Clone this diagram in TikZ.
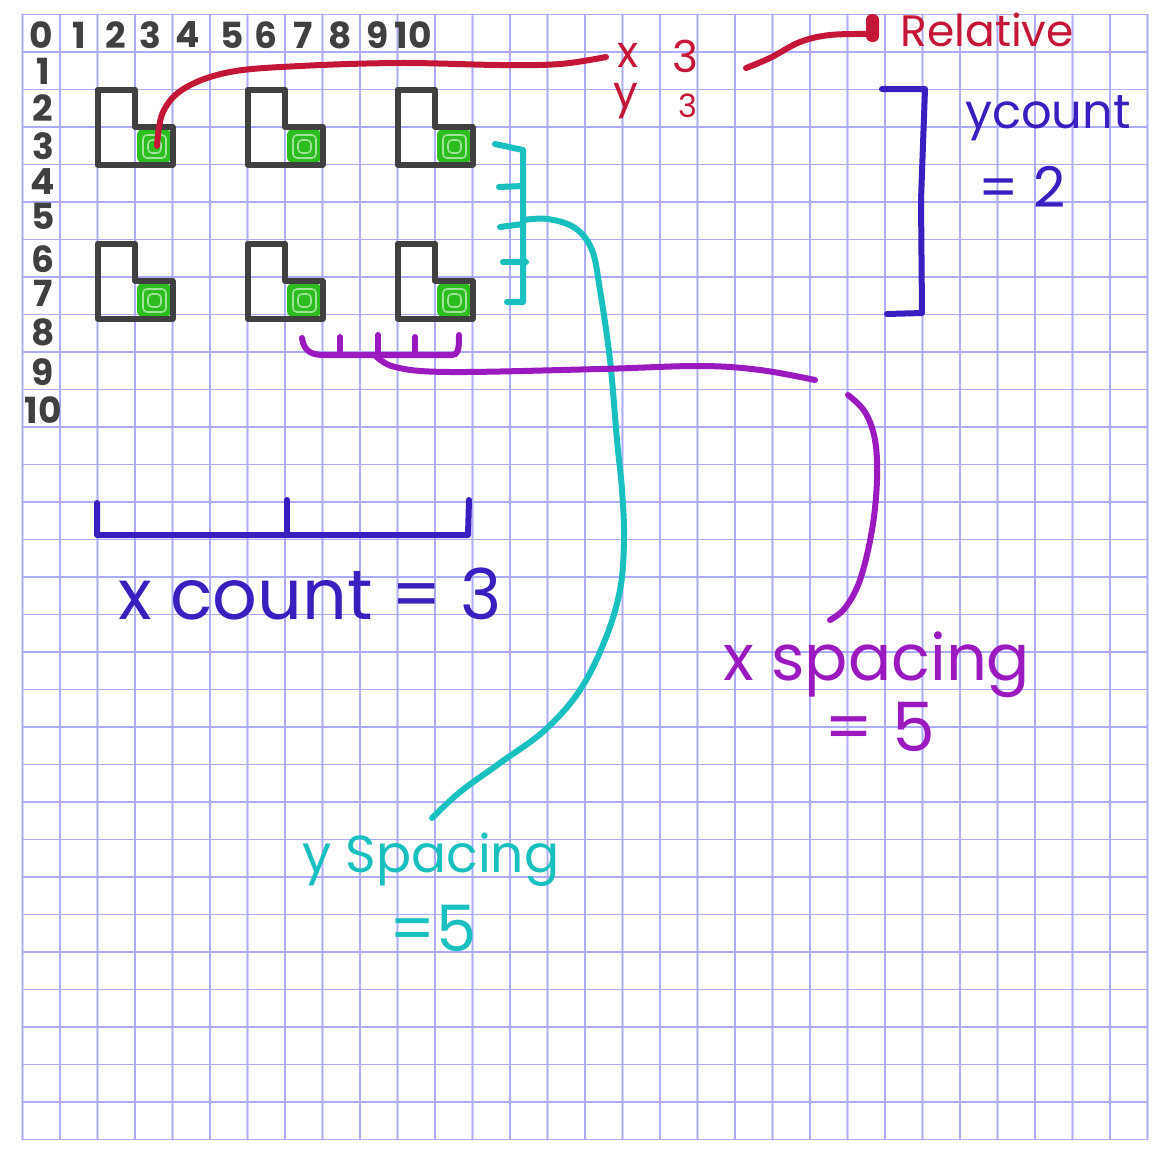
\documentclass[tikz,border=0pt]{standalone}
\usepackage{fontspec}
\setmainfont{Poppins}
\definecolor{gridA}{RGB}{172,172,250}
\definecolor{gridB}{RGB}{214,214,250}
\definecolor{ink}{RGB}{64,64,64}
\definecolor{lgreen}{RGB}{44,190,31}
\definecolor{rred}{RGB}{196,23,55}
\definecolor{dblue}{RGB}{58,30,192}
\definecolor{pur}{RGB}{155,26,191}
\definecolor{cyn}{RGB}{26,191,191}
\begin{document}
\begin{tikzpicture}[x=0.5pt,y=-0.5pt,line cap=round,line join=round,
  pen/.style={line width=3pt},
  num/.style={inner sep=0pt,text=ink,font=\fontsize{18}{18}\selectfont\bfseries},
  lbl/.style={inner sep=0pt,font=\fontsize{#1}{#1}\selectfont}]
\useasboundingbox (0,0) rectangle (1172,1163);
\fill[white] (0,0) rectangle (1172,1163);
% grid
\foreach \i in {0,2,...,30}{\draw[gridB,line width=1.3pt] (22.5+37.5*\i,14.5) -- (22.5+37.5*\i,1139.5);}
\foreach \i in {1,3,...,29}{\draw[gridB,line width=1.3pt] (22.5,14.5+37.5*\i) -- (1147.5,14.5+37.5*\i);}
\foreach \i in {0,...,30}{
  \draw[gridA,line width=0.6pt] (22.5+37.5*\i,14.5) -- (22.5+37.5*\i,1139.5);
  \draw[gridA,line width=0.6pt] (22.5,14.5+37.5*\i) -- (1147.5,14.5+37.5*\i);}
% numbers
\foreach \n/\x in {0/41,1/79,2/116,3/150,4/188,5/232,6/266,7/303,8/340,9/378,10/413}
  {\node[num] (c\n) at (\x,35) {\n};}
\foreach \n/\y in {1/71,2/108,3/146,4/182,5/216,6/259,7/293,8/332,9/372,10/410}
  {\node[num] (r\n) at (43,\y) {\n};}
% L shapes
\foreach \dx in {0,150,300}{\foreach \dy in {0,154}{
  \begin{scope}[shift={(\dx,\dy)}]
  \fill[lgreen,rounded corners=3pt] (137,129) rectangle (171,163);
  \draw[white!55!lgreen,line width=0.8pt,rounded corners=2pt] (143,135) rectangle (166,158) (148,140) rectangle (161,153);
  \draw[pen,ink] (97.5,89.5) -- (135,89.5) -- (135,127) -- (172.5,127) -- (172.5,164.5) -- (97.5,164.5) -- cycle;
  \end{scope}}}
% red
\coordinate (rs) at (157,146);
\coordinate (re) at (606,57);
\draw[pen,rred] plot[smooth,tension=0.6] coordinates {(rs) (163,112) (185,88) (230,72) (300,66) (400,63) (500,65) (560,64) (re)};
\node[lbl=22,text=rred] (xl) at (628,55) {x};
\node[lbl=22,text=rred] (yl) at (626,101) {y};
\node[lbl=22,text=rred] (x3) at (685,56) {3};
\node[lbl=16,text=rred] (y3) at (688,106) {3};
\coordinate (r2) at (746,68);
\draw[pen,rred] plot[smooth,tension=0.6] coordinates {(r2) (770,58) (800,42) (830,35) (868,34)};
\fill[rred,rounded corners=3pt] (866,14) rectangle (879,42);
\node[lbl=22,text=rred,anchor=west] (rel) at (900,30) {Relative};
% ycount bracket
\draw[pen,dblue] (882,89) -- (925,89) -- (921,200) -- (922,313) -- (887,314);
\node[lbl=24,text=dblue] (yc) at (1048,118) {ycount};
\node[lbl=28,text=dblue] (yc2) at (1022,187) {= 2};
% cyan
\draw[pen,cyn] (495,144) -- (523,150) -- (523,302) -- (507,302);
\draw[pen,cyn] (499,187) -- (523,186);
\draw[pen,cyn] (500,227) -- (523,224);
\draw[pen,cyn] (503,262) -- (526,262);
\coordinate (cs) at (523,220);
\coordinate (ce) at (432,818);
\draw[pen,cyn] plot[smooth,tension=0.6] coordinates {(cs) (548,219) (575,228) (592,250) (600,290) (610,360) (617,440) (622,490) (624,540) (620,590) (605,640) (580,690) (545,730) (500,763) (460,792) (ce)};
\node[lbl=26,text=cyn] (ys) at (431,860) {y Spacing};
\node[lbl=32,text=cyn] (ys2) at (433,928) {=5};
% purple
\draw[pen,pur] (302,338) .. controls (304,352) and (312,355) .. (325,355) -- (452,355) .. controls (458,355) and (459,350) .. (459,335);
\draw[pen,pur] (340,337) -- (340,355);
\draw[pen,pur] (378,335) -- (378,355);
\draw[pen,pur] (415,337) -- (415,355);
\coordinate (ps) at (375,355);
\coordinate (pe) at (815,380);
\draw[pen,pur] plot[smooth,tension=0.6] coordinates {(ps) (395,367) (450,372) (600,369) (700,366) (760,370) (pe)};
\coordinate (ps2) at (848,395);
\coordinate (pe2) at (830,620);
\draw[pen,pur] plot[smooth,tension=0.6] coordinates {(ps2) (865,412) (875,440) (877,480) (872,530) (860,580) (845,608) (pe2)};
\node[lbl=32,text=pur] (xs) at (877,665) {x spacing};
\node[lbl=34,text=pur] (xs2) at (880,727) {= 5};
% xcount
\draw[pen,dblue] (97,503) -- (97,535) -- (468,535) -- (469,500);
\draw[pen,dblue] (287,500) -- (287,533);
\node[lbl=35,text=dblue] (xc) at (310,594) {x count = 3};
\end{tikzpicture}
\end{document}
